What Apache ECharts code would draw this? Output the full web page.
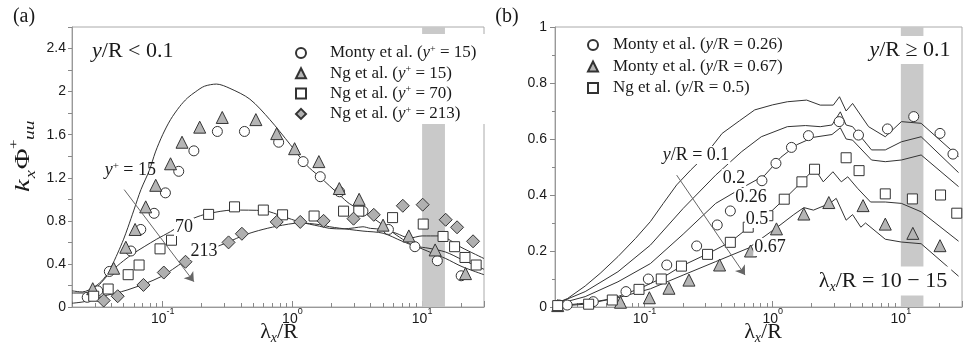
<!DOCTYPE html>
<html>
<head>
<meta charset="utf-8">
<script src="https://cdn.jsdelivr.net/npm/echarts@6/dist/echarts.min.js"></script>
<style>
  html, body { margin: 0; padding: 0; background: #fff; }
  #chart { width: 965px; height: 351px; }
</style>
</head>
<body>
<div id="chart"></div>
<script>
// grey band, lambda_x/R = 10 - 15
const band = [10, 15]

// panel (a), y/R < 0.1 : model curves [lambda_x/R, k_x Phi_uu+]
const curveA15 = [[0.02, 0.15], [0.024, 0.14], [0.03, 0.19], [0.035, 0.26], [0.04, 0.37], [0.045, 0.5], [0.05, 0.63], [0.054, 0.74], [0.06, 0.9], [0.068, 1.09], [0.079, 1.27], [0.088, 1.44], [0.1, 1.6], [0.115, 1.74], [0.135, 1.86], [0.155, 1.94], [0.18, 2.0], [0.21, 2.05], [0.26, 2.07], [0.33, 2.03], [0.47, 1.93], [0.67, 1.74], [0.96, 1.51], [1.28, 1.32], [1.62, 1.21], [2.31, 1.04], [2.75, 0.96], [3.7, 0.87], [5.0, 0.76], [6.3, 0.67], [8.0, 0.59], [10, 0.54], [12, 0.5], [15.2, 0.45], [20.3, 0.375], [30, 0.3]]
const curveA70 = [[0.02, 0.13], [0.025, 0.13], [0.03, 0.17], [0.035, 0.25], [0.04, 0.33], [0.05, 0.43], [0.06, 0.5], [0.072, 0.56], [0.09, 0.63], [0.115, 0.7], [0.14, 0.765], [0.174, 0.825], [0.22, 0.865], [0.35, 0.9], [0.6, 0.895], [0.85, 0.84], [1.14, 0.79], [1.62, 0.75], [1.94, 0.73], [2.46, 0.725], [3.0, 0.735], [3.5, 0.745], [4.0, 0.73], [5.0, 0.72], [6.3, 0.685], [8.0, 0.64], [10, 0.66], [13.5, 0.66], [20.3, 0.55], [30, 0.45]]
const curveA213 = [[0.02, 0.035], [0.025, 0.05], [0.0335, 0.095], [0.054, 0.16], [0.0965, 0.28], [0.146, 0.42], [0.2, 0.5], [0.233, 0.535], [0.33, 0.61], [0.42, 0.665], [0.55, 0.71], [0.76, 0.75], [1.14, 0.78], [1.62, 0.765], [1.94, 0.745], [2.75, 0.72], [3.5, 0.705], [5.0, 0.685], [7.05, 0.61], [8.9, 0.565], [11.3, 0.545], [15.2, 0.51], [20.3, 0.44], [30, 0.35]]

// panel (a) : measurements
const montyA15 = [[0.0262, 0.09], [0.0316, 0.15], [0.0388, 0.33], [0.0569, 0.52], [0.0678, 0.72], [0.0859, 0.87], [0.105, 1.06], [0.133, 1.26], [0.174, 1.45], [0.264, 1.63], [0.427, 1.63], [0.784, 1.53], [1.21, 1.35], [1.64, 1.21], [2.31, 1.07], [3.5, 0.89], [5.5, 0.72], [8.8, 0.56], [13.1, 0.43], [20, 0.29]]
const ngA15 = [[0.0289, 0.17], [0.0419, 0.36], [0.052, 0.555], [0.0613, 0.72], [0.074, 0.93], [0.0884, 1.13], [0.115, 1.33], [0.141, 1.53], [0.193, 1.67], [0.288, 1.76], [0.523, 1.74], [0.757, 1.61], [1.04, 1.47], [1.6, 1.35], [2.3, 1.1], [3.27, 1.0], [5.0, 0.76], [7.9, 0.66], [12.6, 0.53], [21.6, 0.31]]
const ngA70 = [[0.0294, 0.1], [0.038, 0.167], [0.0542, 0.3], [0.0658, 0.39], [0.0954, 0.54], [0.117, 0.62], [0.226, 0.86], [0.358, 0.93], [0.597, 0.9], [0.84, 0.856], [1.47, 0.845], [2.48, 0.89], [3.25, 0.89], [5.92, 0.83], [10.2, 0.77], [14.5, 0.655], [17.8, 0.56], [21.4, 0.46], [26.1, 0.39]]
const ngA213 = [[0.0351, 0.06], [0.045, 0.1], [0.0711, 0.205], [0.102, 0.32], [0.15, 0.42], [0.322, 0.6], [0.408, 0.68], [0.757, 0.79], [1.15, 0.79], [1.74, 0.8], [2.96, 0.82], [4.24, 0.856], [7.1, 0.94], [10.1, 0.95], [15.2, 0.81], [18.6, 0.74], [24.7, 0.61]]

// panel (b), y/R >= 0.1 : model curves
const curveB010 = [[0.02, 0.012], [0.025, 0.03], [0.0344, 0.075], [0.045, 0.12], [0.062, 0.18], [0.085, 0.245], [0.111, 0.305], [0.14, 0.37], [0.178, 0.436], [0.23, 0.49], [0.284, 0.531], [0.403, 0.62], [0.55, 0.665], [0.724, 0.704], [1.0, 0.722], [1.3, 0.733], [1.84, 0.739], [2.35, 0.721], [2.97, 0.721], [3.32, 0.751], [3.74, 0.7], [4.2, 0.727], [5.6, 0.644], [7.56, 0.608], [10.1, 0.662], [14.4, 0.656], [28.2, 0.537]]
const curveB020 = [[0.02, 0.01], [0.0344, 0.055], [0.062, 0.126], [0.111, 0.221], [0.2, 0.352], [0.359, 0.471], [0.573, 0.555], [0.814, 0.608], [1.3, 0.644], [1.8, 0.648], [2.35, 0.644], [2.9, 0.65], [3.37, 0.697], [3.74, 0.65], [4.2, 0.644], [5.9, 0.561], [7.56, 0.561], [10.1, 0.59], [14.4, 0.608], [28.2, 0.48]]
const curveB026 = [[0.02, 0.008], [0.0344, 0.037], [0.062, 0.09], [0.111, 0.155], [0.2, 0.26], [0.359, 0.37], [0.6, 0.43], [0.865, 0.47], [1.16, 0.535], [1.55, 0.58], [2.08, 0.606], [2.9, 0.616], [3.37, 0.64], [3.74, 0.6], [4.2, 0.596], [5.9, 0.525], [7.56, 0.519], [10.1, 0.525], [14.4, 0.543], [28.2, 0.43]]
const curveB050 = [[0.02, 0.003], [0.0366, 0.015], [0.056, 0.03], [0.0905, 0.065], [0.135, 0.102], [0.194, 0.146], [0.31, 0.19], [0.467, 0.232], [0.644, 0.283], [0.916, 0.33], [1.23, 0.385], [1.69, 0.447], [2.12, 0.495], [2.48, 0.447], [2.95, 0.483], [3.43, 0.447], [3.85, 0.465], [4.59, 0.424], [5.8, 0.375], [7.56, 0.375], [10.1, 0.37], [14.4, 0.34], [28.2, 0.235]]
const curveB067 = [[0.02, 0.002], [0.0344, 0.01], [0.062, 0.033], [0.111, 0.065], [0.2, 0.114], [0.359, 0.162], [0.644, 0.21], [1.16, 0.295], [1.46, 0.33], [1.75, 0.355], [2.08, 0.346], [2.79, 0.37], [3.13, 0.388], [3.74, 0.31], [4.2, 0.33], [4.87, 0.285], [5.3, 0.3], [7.56, 0.242], [10.1, 0.232], [14.4, 0.226], [28.2, 0.11]]

// panel (b) : measurements
const montyB026 = [[0.0216, 0.007], [0.0249, 0.007], [0.0398, 0.019], [0.0716, 0.055], [0.107, 0.1], [0.149, 0.15], [0.255, 0.218], [0.369, 0.293], [0.467, 0.343], [0.824, 0.451], [1.06, 0.513], [1.4, 0.57], [1.9, 0.612], [3.3, 0.662], [4.67, 0.614], [7.86, 0.636], [12.6, 0.68], [20.2, 0.62], [25.5, 0.546]]
const montyB067 = [[0.021, 0.005], [0.0649, 0.017], [0.109, 0.033], [0.155, 0.067], [0.222, 0.096], [0.385, 0.15], [0.671, 0.2], [1.07, 0.279], [1.75, 0.332], [2.74, 0.373], [5.07, 0.362], [7.56, 0.296], [12.4, 0.263], [20.2, 0.219]]
const ngB050 = [[0.021, 0.005], [0.0366, 0.01], [0.056, 0.025], [0.0905, 0.063], [0.135, 0.1], [0.194, 0.146], [0.31, 0.188], [0.467, 0.231], [0.644, 0.285], [0.916, 0.326], [1.23, 0.385], [1.69, 0.447], [2.12, 0.492], [3.74, 0.533], [4.72, 0.487], [7.56, 0.404], [12.3, 0.386], [20.4, 0.4], [27.3, 0.335]]

// arrows across the curve families
const arrowA = [[0.0505, 1.09], [0.174, 0.235]]
const arrowB = [[0.178, 0.471], [0.608, 0.114]]

const serif = 'Liberation Serif'
const sans = 'Liberation Sans'
const ink = '#1a1a1a'

function richFor(size) {
  return {
    i: { fontFamily: serif, fontStyle: 'italic', fontSize: size, fill: ink },
    sup: { fontFamily: serif, fontSize: Math.round(size * 0.6), verticalAlign: 'top', lineHeight: Math.round(size * 0.6), fill: ink },
    sub: { fontFamily: serif, fontStyle: 'italic', fontSize: Math.round(size * 0.65), verticalAlign: 'bottom', padding: [Math.round(size * 0.6), 0, 0, 0], fill: ink }
  }
}

// text annotation, pixel placed
function note(x, y, text, size, extra) {
  return {
    type: 'text', x: x, y: y, z: 100,
    style: Object.assign({
      text: text, fontFamily: serif, fontSize: size, fill: ink,
      align: 'center', verticalAlign: 'middle', rich: richFor(size)
    }, extra || {})
  }
}

function logLabel(v) {
  const e = Math.log10(v)
  if (Math.abs(e - Math.round(e)) > 1e-6) return ''
  return '{b|10}{e|' + Math.round(e) + '}'
}

function xAxisFor(i) {
  return {
    type: 'log', gridIndex: i, logBase: 10, min: 0.02, max: 30,
    axisLine: { lineStyle: { color: '#999' } },
    axisTick: { inside: true, length: 6, lineStyle: { color: '#888' } },
    minorTick: { show: true, splitNumber: 9, length: 4, lineStyle: { color: '#888' } },
    splitLine: { show: false },
    axisLabel: {
      margin: 0, formatter: logLabel, color: ink,
      rich: {
        b: { fontFamily: sans, fontSize: 14, lineHeight: 19, verticalAlign: 'bottom', color: ink },
        e: { fontFamily: sans, fontSize: 9, lineHeight: 9, verticalAlign: 'top', color: ink }
      }
    }
  }
}

function curve(name, data, xi, smooth) {
  return {
    name: name, type: 'line', xAxisIndex: xi, yAxisIndex: xi, data: data,
    showSymbol: false, smooth: smooth, silent: true, z: 3,
    lineStyle: { color: '#333', width: 1 }
  }
}

function points(name, data, xi, symbol, size, fill) {
  return {
    name: name, type: 'scatter', xAxisIndex: xi, yAxisIndex: xi, data: data,
    symbol: symbol, symbolSize: size, silent: true, z: 4,
    itemStyle: { color: fill, borderColor: '#333', borderWidth: 1, opacity: 1 }
  }
}

function extras(xi, arrow) {
  return {
    type: 'line', xAxisIndex: xi, yAxisIndex: xi, data: [], silent: true, z: 1,
    markArea: {
      silent: true, itemStyle: { color: '#c9c9c9' },
      data: [[{ xAxis: band[0] }, { xAxis: band[1] }]]
    },
    markLine: {
      silent: true, symbol: ['none', 'arrow'], symbolSize: 9,
      lineStyle: { color: '#666', width: 1, type: 'solid' },
      label: { show: false },
      data: [[{ coord: arrow[0] }, { coord: arrow[1] }]]
    }
  }
}

// {g| } is a spacer between the legend symbol and its text
const legendNames = {
  'Monty y+15': '{g| }Monty et al. ({i|y}{s|+} = 15)',
  'Ng y+15': '{g| }Ng et al. ({i|y}{s|+} = 15)',
  'Ng y+70': '{g| }Ng et al. ({i|y}{s|+} = 70)',
  'Ng y+213': '{g| }Ng et al. ({i|y}{s|+} = 213)',
  'Monty 0.26': '{g| }Monty et al. ({i|y}/R = 0.26)',
  'Monty 0.67': '{g| }Monty et al. ({i|y}/R = 0.67)',
  'Ng 0.5': '{g| }Ng et al. ({i|y}/R = 0.5)'
}

function legendText(gap) {
  return {
    fontFamily: serif, fontSize: 17, lineHeight: 18, color: ink,
    rich: {
      g: { width: gap, fontSize: 17 },
      i: { fontFamily: serif, fontStyle: 'italic', fontSize: 17, color: ink },
      s: { fontFamily: serif, fontSize: 10, lineHeight: 10, verticalAlign: 'top', color: ink }
    }
  }
}

const chart = echarts.init(document.getElementById('chart'), null, { renderer: 'canvas' })

const option = {
  animation: false,
  backgroundColor: '#fff',
  grid: [
    { left: 72, top: 27, right: 481, bottom: 44, show: true, borderColor: '#aaa', borderWidth: 1 },
    { left: 555, top: 27, right: -4, bottom: 44, show: true, borderColor: '#aaa', borderWidth: 1 }
  ],
  xAxis: [xAxisFor(0), xAxisFor(1)],
  yAxis: [
    {
      type: 'value', gridIndex: 0, min: 0, max: 2.6, interval: 0.2,
      axisLine: { show: true, lineStyle: { color: '#999' } },
      axisTick: { show: true, length: 4, lineStyle: { color: '#888' } },
      splitLine: { show: false },
      axisLabel: {
        margin: 6, fontFamily: sans, fontSize: 14, color: ink,
        formatter: function (v) {
          const k = v / 0.4
          if (Math.abs(k - Math.round(k)) > 1e-6 || v > 2.5) return ''
          return String(+v.toFixed(1))
        }
      }
    },
    {
      type: 'value', gridIndex: 1, min: 0, max: 1, interval: 0.2,
      axisLine: { show: true, lineStyle: { color: '#999' } },
      axisTick: { show: true, length: 5, lineStyle: { color: '#888' } },
      minorTick: { show: true, splitNumber: 2, length: 3, lineStyle: { color: '#888' } },
      splitLine: { show: false },
      axisLabel: { margin: 8, fontFamily: sans, fontSize: 14, color: ink }
    }
  ],
  legend: [
    {
      data: ['Monty y+15', 'Ng y+15', 'Ng y+70', 'Ng y+213'],
      left: 289, top: 34, orient: 'vertical', itemGap: 2.3,
      itemWidth: 10, itemHeight: 10, padding: [10, 10, 1, 6],
      backgroundColor: '#fff', selectedMode: false,
      formatter: function (n) { return legendNames[n] },
      textStyle: legendText(19)
    },
    {
      data: ['Monty 0.26', 'Monty 0.67', 'Ng 0.5'],
      left: 581, top: 26, orient: 'vertical', itemGap: 3.5,
      itemWidth: 10, itemHeight: 10, padding: [10, 10, 1, 6],
      selectedMode: false,
      formatter: function (n) { return legendNames[n] },
      textStyle: legendText(10)
    }
  ],
  series: [
    extras(0, arrowA),
    curve('a15', curveA15, 0, 0.3),
    curve('a70', curveA70, 0, 0.3),
    curve('a213', curveA213, 0, 0.3),
    points('Monty y+15', montyA15, 0, 'circle', 10, '#fff'),
    points('Ng y+15', ngA15, 0, 'triangle', 12, '#b5b5b5'),
    points('Ng y+70', ngA70, 0, 'rect', 10, '#fff'),
    points('Ng y+213', ngA213, 0, 'diamond', 13, '#b0b0b0'),

    extras(1, arrowB),
    curve('b010', curveB010, 1, false),
    curve('b020', curveB020, 1, false),
    curve('b026', curveB026, 1, false),
    curve('b050', curveB050, 1, false),
    curve('b067', curveB067, 1, false),
    points('Monty 0.26', montyB026, 1, 'circle', 10, '#fff'),
    points('Monty 0.67', montyB067, 1, 'triangle', 12, '#b5b5b5'),
    points('Ng 0.5', ngB050, 1, 'rect', 10, '#fff')
  ],
  graphic: [
    note(24, 17, '(a)', 20),
    note(507, 17, '(b)', 20),
    note(92, 51, '{i|y}/R < 0.1', 22, { align: 'left' }),
    note(156, 170, '{i|y}{sup|+} = 15', 18, { align: 'right' }),
    note(184, 227, '70', 18, { backgroundColor: '#fff', padding: [0, 1] }),
    note(204, 251, '213', 18, { backgroundColor: '#fff', padding: [0, 1] }),
    note(279, 332, 'λ{sub|x}/R', 22),
    note(910, 50, '{i|y}/R ≥ 0.1', 22, { backgroundColor: '#fff', padding: [3, 4] }),
    note(696, 155, '{i|y}/R = 0.1', 18, { backgroundColor: '#fff', padding: [0, 1] }),
    note(734, 178, '0.2', 18, { backgroundColor: '#fff', padding: [0, 1] }),
    note(751, 197, '0.26', 18, { backgroundColor: '#fff', padding: [0, 1] }),
    note(757, 219, '0.5', 18, { backgroundColor: '#fff', padding: [0, 1] }),
    note(770, 247, '0.67', 18, { backgroundColor: '#fff', padding: [0, 1] }),
    note(883, 281, 'λ{sub|x}/R = 10 − 15', 22, { backgroundColor: '#fff', padding: [1, 4] }),
    note(763, 332, 'λ{sub|x}/R', 22),
    {
      type: 'group', x: 26, y: 192, rotation: Math.PI / 2, scaleX: 1.3, z: 100,
      children: [
        { type: 'text', x: 0, y: 8, style: { text: 'k', fontFamily: serif, fontStyle: 'italic', fontSize: 22, fill: ink, align: 'left', verticalAlign: 'bottom' } },
        { type: 'text', x: 10.5, y: 12, style: { text: 'x', fontFamily: serif, fontStyle: 'italic', fontSize: 14, fill: ink, align: 'left', verticalAlign: 'bottom' } },
        { type: 'text', x: 17.5, y: 8, style: { text: 'Φ', fontFamily: serif, fontSize: 22, fill: ink, align: 'left', verticalAlign: 'bottom' } },
        { type: 'text', x: 33, y: -5, style: { text: '+', fontFamily: serif, fontSize: 13, fill: ink, align: 'left', verticalAlign: 'bottom' } },
        { type: 'text', x: 40, y: 12, style: { text: 'uu', fontFamily: serif, fontStyle: 'italic', fontSize: 15, fill: ink, align: 'left', verticalAlign: 'bottom' } }
      ]
    }
  ]
}

chart.setOption(option)
</script>
</body>
</html>
